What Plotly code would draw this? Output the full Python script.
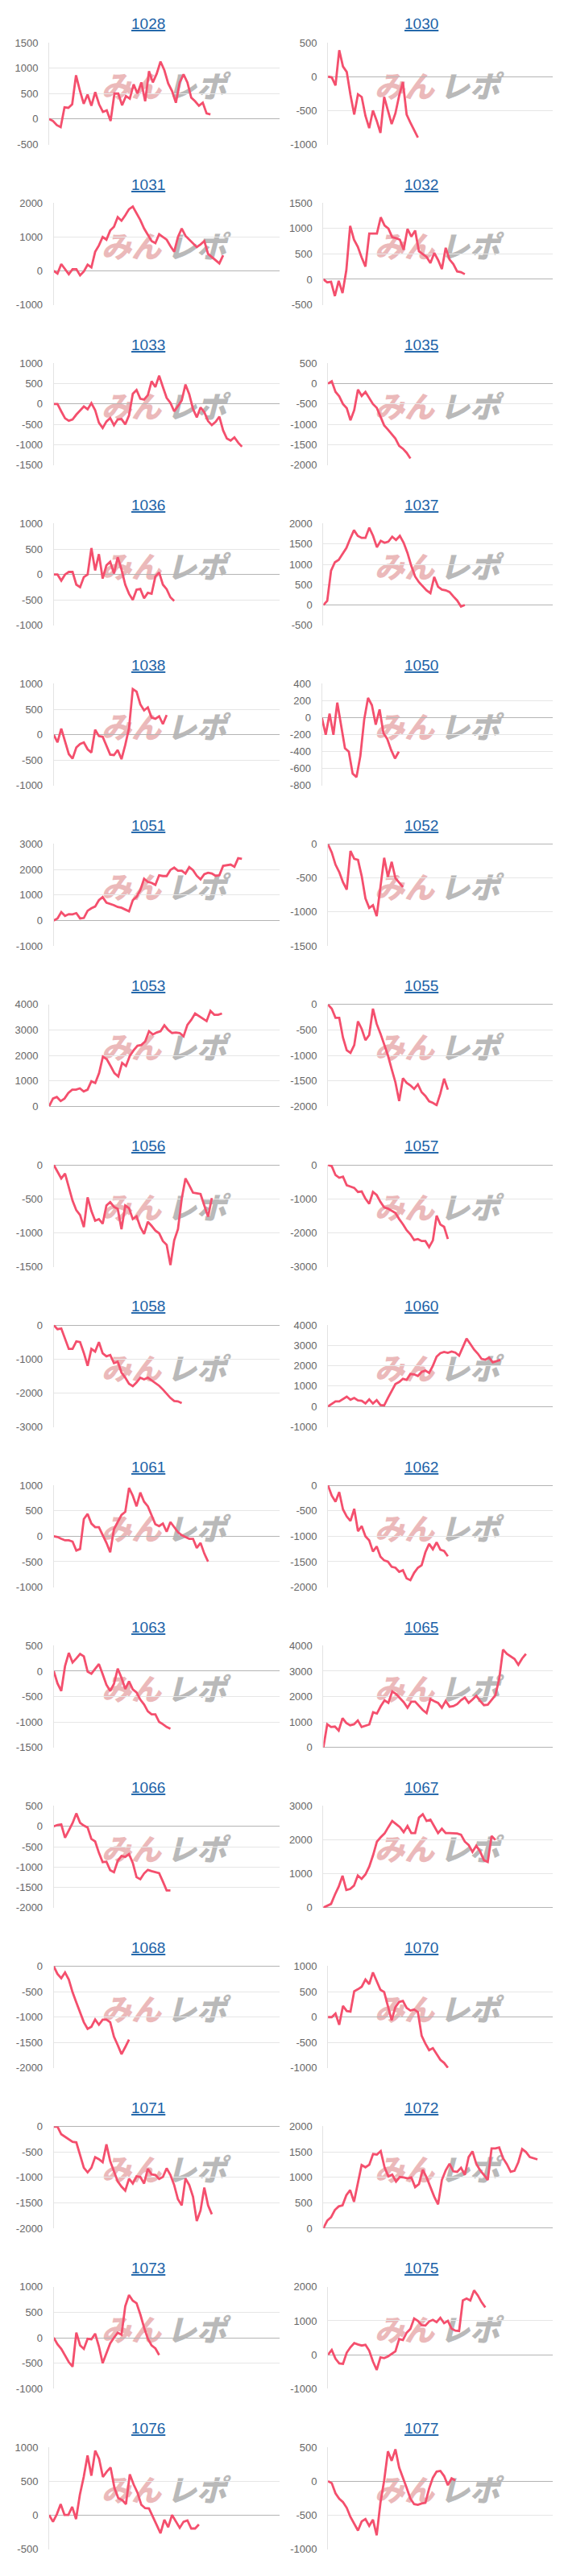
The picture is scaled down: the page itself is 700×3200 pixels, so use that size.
import plotly.graph_objects as go

# ---------------- data ----------------
machines = ["1028", "1030", "1031", "1032", "1033", "1035", "1036", "1037",
            "1038", "1050", "1051", "1052", "1053", "1055", "1056", "1057",
            "1058", "1060", "1061", "1062", "1063", "1065", "1066", "1067",
            "1068", "1070", "1071", "1072", "1073", "1075", "1076", "1077"]

# y-axis tick ranges: (min, max, step)
y_ticks = {
    "1028": (-500, 1500, 500), "1030": (-1000, 500, 500), "1031": (-1000, 2000, 1000), "1032": (-500, 1500, 500),
    "1033": (-1500, 1000, 500), "1035": (-2000, 500, 500), "1036": (-1000, 1000, 500), "1037": (-500, 2000, 500),
    "1038": (-1000, 1000, 500), "1050": (-800, 400, 200), "1051": (-1000, 3000, 1000), "1052": (-1500, 0, 500),
    "1053": (0, 4000, 1000), "1055": (-2000, 0, 500), "1056": (-1500, 0, 500), "1057": (-3000, 0, 1000),
    "1058": (-3000, 0, 1000), "1060": (-1000, 4000, 1000), "1061": (-1000, 1000, 500), "1062": (-2000, 0, 500),
    "1063": (-1500, 500, 500), "1065": (0, 4000, 1000), "1066": (-2000, 500, 500), "1067": (0, 3000, 1000),
    "1068": (-2000, 0, 500), "1070": (-1000, 1000, 500), "1071": (-2000, 0, 500), "1072": (0, 2000, 500),
    "1073": (-1000, 1000, 500), "1075": (-1000, 2000, 1000), "1076": (-500, 1000, 500), "1077": (-1000, 500, 500),
}

x_slots = 60  # number of x slots on every chart's category axis

v1028 = [0, -40, -120, -160, 230, 220, 290, 860, 560, 300, 480, 260, 530, 290, 140, 170, -40, 500, 500, 270, 450,
         400, 680, 500, 720, 350, 940, 720, 890, 1130, 960, 700, 550, 320, 720, 880, 720, 420, 350, 260, 320, 110, 90]
v1030 = [0, -10, -130, 390, 150, 70, -270, -560, -260, -300, -580, -760, -500, -650, -830, -300, -500, -700, -540,
         -280, -80, -560, -680, -790, -900]
v1031 = [0, -80, 200, 40, -100, 50, 50, -130, -20, 180, 100, 560, 750, 1000, 920, 1190, 1300, 1585, 1480, 1640, 1820,
         1900, 1700, 1500, 1250, 1050, 880, 820, 1080, 1000, 920, 730, 565, 1000, 1250, 1035, 920, 790, 700, 780, 880,
         500, 410, 300, 220, 460]
v1032 = [0, -60, -50, -330, -30, -270, 180, 1050, 780, 640, 430, 250, 900, 900, 900, 1220, 1060, 1000, 830, 810, 780,
         580, 990, 840, 960, 550, 500, 440, 320, 520, 380, 200, 620, 390, 300, 155, 140, 100]
v1033 = [0, 0, -180, -350, -410, -380, -260, -170, -60, -130, 20, -150, -460, -590, -430, -345, -520, -380, -370, -500,
         -280, 250, 345, 130, 110, 220, 560, 420, 700, 420, 150, 30, -180, -50, 90, 480, 240, -120, -330, -85, -200,
         -420, -520, -440, -310, -650, -850, -900, -820, -950, -1050]
v1035 = [0, 60, -200, -310, -500, -600, -900, -650, -145, -300, -200, -350, -500, -590, -820, -1025, -1130, -1240,
         -1350, -1530, -1600, -1700, -1840]
v1036 = [0, 0, -120, 0, 50, 50, -200, -250, -50, 0, 520, 80, 400, -80, 180, 250, 20, 340, 100, -200, -380, -500, -300,
         -285, -470, -360, -380, -40, 40, -200, -290, -450, -520]
v1037 = [0, 100, 845, 1050, 1110, 1250, 1400, 1630, 1840, 1700, 1650, 1650, 1900, 1700, 1420, 1580, 1530, 1560, 1680,
         1600, 1700, 1530, 1280, 960, 700, 560, 450, 360, 290, 690, 450, 380, 360, 320, 210, 110, -40, 0]
v1038 = [0, -150, 120, -130, -380, -470, -250, -180, -150, -285, -350, 100, -25, -40, -230, -390, -400, -300, -480,
         -200, 130, 900, 850, 600, 480, 540, 340, 315, 365, 210, 390]
v1050 = [0, -200, 50, -200, 180, -80, -360, -400, -660, -700, -450, -20, 235, 150, -80, 100, -180, -250, -380, -480,
         -400]
v1051 = [0, 80, 330, 180, 250, 240, 290, 80, 100, 380, 480, 550, 800, 920, 700, 660, 600, 530, 500, 430, 360, 800,
         930, 1200, 1645, 1520, 1480, 1400, 1780, 1750, 1750, 1990, 2080, 1960, 1960, 1850, 2100, 1980, 1760, 1620,
         1820, 1880, 1850, 1760, 1780, 2150, 2180, 2200, 2115, 2450, 2425]
v1052 = [0, -120, -300, -410, -560, -670, -100, -215, -230, -470, -800, -940, -900, -1060, -630, -200, -480, -260,
         -500, -570, -630]
v1053 = [0, 300, 360, 200, 300, 520, 650, 650, 700, 580, 650, 980, 910, 1300, 1950, 1850, 1580, 1300, 1170, 1700,
         1580, 1980, 2200, 2380, 2410, 2550, 2950, 2820, 2900, 2950, 3185, 3000, 2880, 2900, 2880, 2750, 3200, 3400,
         3650, 3550, 3450, 3350, 3750, 3600, 3600, 3650]
v1055 = [0, -80, -260, -260, -650, -900, -950, -800, -330, -480, -700, -600, -80, -380, -570, -770, -1000, -1270,
         -1530, -1900, -1450, -1540, -1590, -1660, -1570, -1725, -1800, -1905, -1935, -1980, -1750, -1460, -1675]
v1056 = [0, -100, -200, -130, -340, -530, -670, -740, -920, -480, -680, -825, -800, -870, -600, -550, -620, -650, -950,
         -600, -640, -800, -760, -920, -1020, -840, -900, -970, -1010, -1125, -1180, -1480, -1115, -950, -500, -200,
         -300, -410, -420, -430, -600, -765, -490]
v1057 = [0, -40, -300, -380, -350, -600, -640, -680, -800, -785, -1000, -1150, -800, -890, -1095, -1255, -1290, -1350,
         -1420, -1600, -1750, -1930, -2050, -2220, -2190, -2250, -2250, -2430, -2230, -1500, -1760, -1830, -2190]
v1058 = [0, -120, -100, -420, -700, -700, -480, -500, -820, -1200, -700, -780, -500, -830, -920, -880, -1120, -1080,
         -1400, -1550, -1730, -1800, -1690, -1550, -1600, -1550, -1630, -1710, -1790, -1900, -2030, -2150, -2240,
         -2250, -2300]
v1060 = [0, 130, 250, 250, 350, 480, 330, 420, 300, 280, 150, 350, 140, 310, 70, 50, 420, 740, 1100, 1200, 1360, 1310,
         1600, 1580, 1500, 1700, 1765, 1650, 2000, 2450, 2620, 2680, 2640, 2700, 2650, 2500, 2950, 3340, 3075, 2800,
         2600, 2340, 2300, 2400, 2170, 2225, 2290]
v1061 = [0, -15, -50, -80, -80, -105, -280, -250, 340, 440, 250, 180, 180, 30, -130, -315, 140, 280, 420, 480, 950,
         800, 590, 860, 680, 590, 400, 235, 200, 250, 90, 280, 180, 80, 20, -20, -50, -50, -230, -130, -340, -500]
v1062 = [0, -200, -320, -130, -470, -610, -700, -460, -900, -800, -1000, -1080, -1300, -1200, -1400, -1475, -1500,
         -1600, -1620, -1700, -1670, -1830, -1865, -1720, -1620, -1570, -1315, -1150, -1255, -1120, -1265, -1290, -1395]
v1063 = [0, -240, -390, 100, 360, 170, 250, 340, 290, -10, -50, 50, 140, -60, -270, -390, -250, 50, -130, -350, -200,
         -360, -420, -560, -655, -790, -850, -850, -1000, -1045, -1100, -1135]
v1065 = [0, 910, 800, 820, 660, 1150, 960, 870, 910, 1060, 800, 850, 900, 1380, 1330, 1620, 1850, 1750, 2200, 2100,
         1950, 1780, 1560, 1800, 1800, 1620, 1470, 1350, 1900, 1820, 1750, 1560, 1830, 1600, 1620, 1700, 1855, 1960,
         1750, 1880, 2030, 1830, 1660, 1680, 1850, 2050, 2700, 3850, 3680, 3590, 3480, 3250, 3500, 3680]
v1066 = [0, 35, 50, -280, -100, 80, 320, 90, 20, -30, -310, -370, -650, -880, -870, -1080, -1130, -850, -730, -750,
         -680, -900, -1250, -1300, -1160, -1070, -1100, -1120, -1150, -1360, -1575, -1575]
v1067 = [0, 60, 110, 380, 620, 940, 520, 550, 650, 950, 850, 980, 1215, 1550, 1950, 2080, 2190, 2380, 2560, 2470,
         2380, 2230, 2410, 2200, 2200, 2660, 2760, 2560, 2600, 2400, 2200, 2330, 2200, 2200, 2200, 2190, 2155, 1950,
         1850, 1645, 1830, 1660, 1400, 1350, 2115, 2000]
v1068 = [0, -150, -235, -120, -260, -510, -710, -920, -1100, -1230, -1190, -1045, -1150, -1050, -1050, -1100, -1385,
         -1550, -1730, -1590, -1440]
v1070 = [0, 0, 70, -150, 220, 120, 110, 510, 550, 600, 740, 650, 880, 710, 540, 495, 220, -60, 200, 300, 320, 180,
         130, 150, 100, -365, -520, -650, -610, -730, -840, -900, -995]
v1071 = [0, 0, -150, -200, -250, -300, -310, -580, -810, -900, -810, -600, -640, -700, -350, -680, -890, -1080,
         -1180, -1260, -1025, -1120, -980, -990, -1120, -830, -940, -950, -1030, -990, -820, -950, -1150, -1430, -1550,
         -1020, -1150, -1380, -1860, -1650, -1200, -1550, -1725]
v1072 = [0, 150, 215, 360, 430, 450, 650, 750, 520, 900, 1245, 1200, 1250, 1460, 1450, 1520, 1200, 1020, 1055, 920,
         1010, 1000, 980, 1000, 810, 870, 1150, 1000, 810, 620, 470, 950, 1140, 1270, 1120, 1110, 1190, 1050, 1400,
         1515, 1270, 1140, 1050, 950, 1570, 1570, 1590, 1380, 1260, 1110, 1130, 1300, 1560, 1500, 1400, 1380, 1355]
v1073 = [0, -130, -220, -360, -480, -570, 100, -150, -220, -20, -30, 80, -170, -500, -300, -110, 0, 100, 60, 620, 840,
         730, 680, 460, 200, -20, -150, -210, -340]
v1075 = [0, 140, -120, -260, -270, 60, 220, 340, 300, 270, 290, 120, -200, -450, -80, -100, -50, 30, 100, 460, 430,
         650, 760, 1070, 1000, 870, 860, 980, 1030, 960, 1090, 930, 1000, 770, 710, 700, 1600, 1660, 1600, 1900, 1750,
         1550, 1395]
v1076 = [0, -100, 10, 160, 0, 0, 120, -60, 300, 560, 880, 580, 950, 830, 560, 640, 700, 400, 250, 220, 160, 600, 450,
         330, 150, 100, 95, -30, -160, -270, -70, -180, 0, -100, -190, -100, -80, -200, -200, -140]
v1077 = [0, -30, -180, -260, -310, -395, -530, -630, -730, -595, -560, -660, -570, -800, -320, 10, 440, 300, 470, 200,
         60, -100, -260, -340, -350, -330, -320, -110, 50, 140, 150, 75, -60, 40, 10]

series = {
    "1028": v1028, "1030": v1030, "1031": v1031, "1032": v1032, "1033": v1033, "1035": v1035, "1036": v1036,
    "1037": v1037, "1038": v1038, "1050": v1050, "1051": v1051, "1052": v1052, "1053": v1053, "1055": v1055,
    "1056": v1056, "1057": v1057, "1058": v1058, "1060": v1060, "1061": v1061, "1062": v1062, "1063": v1063,
    "1065": v1065, "1066": v1066, "1067": v1067, "1068": v1068, "1070": v1070, "1071": v1071, "1072": v1072,
    "1073": v1073, "1075": v1075, "1076": v1076, "1077": v1077,
}

# ---------------- layout ----------------
W, H = 700, 3200
ROW_H = 200
LINE_COLOR = "#f44f6d"
GRID = "#e6e6e6"
ZERO = "#b4b4b4"
TICK_FONT = dict(family="Liberation Sans, Arial, sans-serif", size=13, color="#666666")


def label_width(s):
    return sum(5.7 if ch == "-" else 7.6 for ch in s)


fig = go.Figure()
layout_axes = {}
annotations = []
shapes = []

for k, name in enumerate(machines):
    r, c = divmod(k, 2)
    lo, hi, st = y_ticks[name]
    tickvals = list(range(lo, hi + 1, st))
    ticktext = [str(t) for t in tickvals]
    lw = max(label_width(s) for s in ticktext)
    origin = 15.6 if c == 0 else 356.0
    x0 = origin + lw + 15
    x1 = 347.0 if c == 0 else 686.0
    top = 46 + ROW_H * r
    bot = 173.5 + ROW_H * r

    idx = k + 1
    xa = "x" if idx == 1 else f"x{idx}"
    ya = "y" if idx == 1 else f"y{idx}"
    xkey = "xaxis" if idx == 1 else f"xaxis{idx}"
    ykey = "yaxis" if idx == 1 else f"yaxis{idx}"

    vals = series[name]
    fig.add_trace(go.Scatter(
        x=list(range(len(vals))), y=vals, xaxis=xa, yaxis=ya, mode="lines",
        line=dict(color=LINE_COLOR, width=2.8), hoverinfo="skip", showlegend=False,
    ))

    pad = (hi - lo) * 0.003
    layout_axes[xkey] = dict(domain=[x0 / W, x1 / W], anchor=ya, range=[0, x_slots],
                             showgrid=False, zeroline=False, showticklabels=False,
                             showline=False, ticks="", fixedrange=True)
    layout_axes[ykey] = dict(domain=[1 - bot / H, 1 - top / H], anchor=xa, range=[lo - pad, hi + pad],
                             tickmode="array", tickvals=tickvals, ticktext=ticktext,
                             showgrid=True, gridcolor=GRID, gridwidth=1,
                             zeroline=True, zerolinecolor=ZERO, zerolinewidth=1,
                             showline=True, linecolor="#e3e3e3", linewidth=1,
                             ticks="outside", ticklen=10, tickcolor="rgba(0,0,0,0)",
                             tickfont=TICK_FONT, fixedrange=True)

    # title (link-like, underlined)
    cx = 184 if c == 0 else 523
    annotations.append(dict(
        text=name, x=cx / W, y=1 - (23 + ROW_H * r) / H, xref="paper", yref="paper",
        xanchor="center", yanchor="middle", showarrow=False,
        font=dict(family="Liberation Sans, Arial, sans-serif", size=19, color="#1b62a8", lineposition="under"),
    ))

    # watermark logo (behind the line)
    wy = 1 - (104 + ROW_H * r) / H
    off = 0 if c == 0 else 339
    for txt, wcx, col in (("みん", 163, "#ebb9ba"), ("レポ", 244, "#b9b9b9")):
        shapes.append(dict(
            type="rect", xref="paper", yref="paper", layer="below",
            x0=(wcx + off - 42) / W, x1=(wcx + off + 42) / W, y0=wy - 18 / H, y1=wy + 18 / H,
            line=dict(width=0), fillcolor="rgba(0,0,0,0)",
            label=dict(text=txt, textposition="middle center",
                       font=dict(family="Noto Sans CJK JP", size=37, color=col,
                                 weight=900, style="italic")),
        ))

fig.update_layout(
    width=W, height=H, autosize=False,
    margin=dict(l=0, r=0, t=0, b=0),
    paper_bgcolor="white", plot_bgcolor="rgba(0,0,0,0)",
    annotations=annotations, shapes=shapes, showlegend=False,
    **layout_axes,
)

fig.write_html("out.html")
